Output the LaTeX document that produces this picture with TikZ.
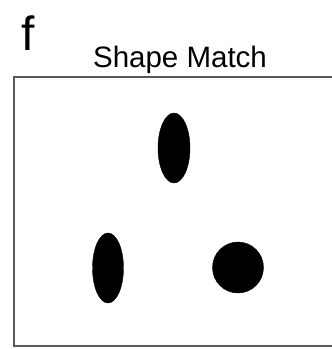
\documentclass[tikz,border=0pt]{standalone}
\usepackage{fontspec}
\setmainfont{Liberation Sans}
\begin{document}
\begin{tikzpicture}[x=1pt, y=-1pt]
    % Canvas size
    \useasboundingbox (0,0) rectangle (332,349);
    \clip (0,0) rectangle (332,349);

    % Panel letter and title
    \node[anchor=base west, inner sep=0pt, font=\fontsize{48}{48}\selectfont] (panel) at (21,50) {f};
    \node[anchor=base, inner sep=0pt, font=\fontsize{29.5}{30}\selectfont] (title) at (180,67) {Shape Match};

    % Frame
    \draw[gray!70!black, line width=1.6pt] (340,77) -- (14,77) -- (14,346) -- (340,346);

    % Shapes
    \filldraw[black] (174,148) ellipse (16 and 35);
    \filldraw[black] (108,268) ellipse (15.5 and 35);
    \filldraw[black] (238,267.5) circle (25.5);
\end{tikzpicture}
\end{document}
